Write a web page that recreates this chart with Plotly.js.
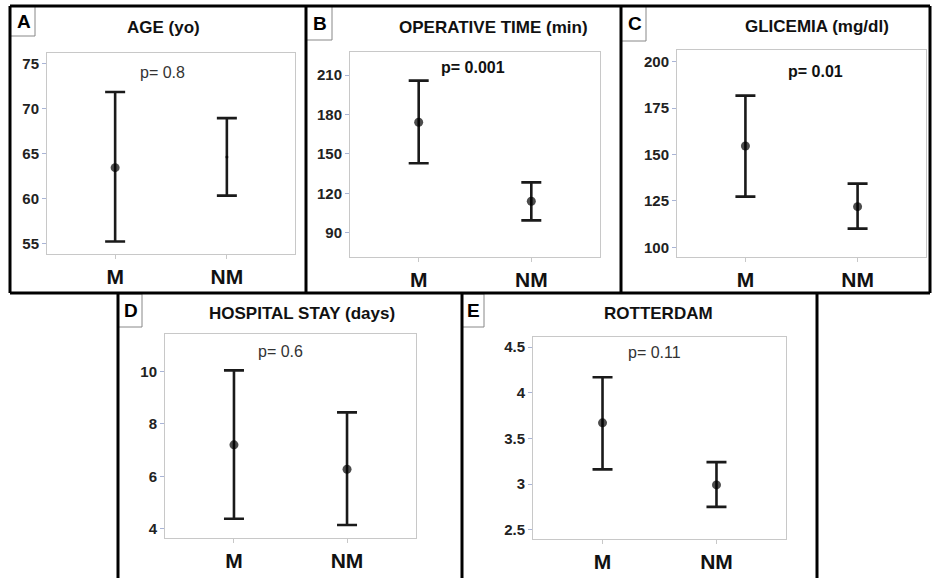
<!DOCTYPE html>
<html>
<head>
<meta charset="utf-8">
<script src="https://cdn.plot.ly/plotly-3.0.1.min.js"></script>
<style>html,body{margin:0;padding:0;background:#fff;}#chart{width:932px;height:578px;}</style>
</head>
<body>
<div id="chart"></div>
<script>
// ---- data ----
const categories = ['M', 'NM'];

const ageMean  = [63.4, 64.6];
const ageUpper = [71.8, 68.9];
const ageLower = [55.2, 60.3];

const opMean  = [174.0, 113.9];
const opUpper = [205.7, 128.3];
const opLower = [142.8, 99.4];

const gliMean  = [154.6, 121.9];
const gliUpper = [181.7, 134.3];
const gliLower = [127.3, 110.1];

const stayMean  = [7.2, 6.27];
const stayUpper = [10.04, 8.44];
const stayLower = [4.38, 4.14];

const rotMean  = [3.67, 2.99];
const rotUpper = [4.17, 3.24];
const rotLower = [3.16, 2.75];

const panelLetters = ['A', 'B', 'C', 'D', 'E'];
const panelTitles  = ['AGE (yo)', 'OPERATIVE TIME (min)', 'GLICEMIA (mg/dl)', 'HOSPITAL STAY (days)', 'ROTTERDAM'];
const pValues      = ['p= 0.8', 'p= 0.001', 'p= 0.01', 'p= 0.6', 'p= 0.11'];
const pBold        = [false, true, true, false, false];

// ---- layout helpers ----
const W = 932, H = 578;
const px = x => x / W;
const py = y => 1 - y / H;
const FONT = 'Liberation Sans, Arial, Helvetica, sans-serif';

const panels = [
  {mean: ageMean,  up: ageUpper,  lo: ageLower,  box: [47, 53, 295, 254],   range: [53.81, 76.14], dtick: 5,   nmSize: 3},
  {mean: opMean,   up: opUpper,   lo: opLower,   box: [350, 52, 600, 257],  range: [71.5, 227.5],  dtick: 30,  nmSize: 9},
  {mean: gliMean,  up: gliUpper,  lo: gliLower,  box: [677, 50, 926, 257],  range: [94.8, 206.3],  dtick: 25,  nmSize: 9},
  {mean: stayMean, up: stayUpper, lo: stayLower, box: [165, 334, 416, 538], range: [3.645, 11.43], dtick: 2,   nmSize: 9},
  {mean: rotMean,  up: rotUpper,  lo: rotLower,  box: [533, 337, 786, 539], range: [2.398, 4.61],  dtick: 0.5, nmSize: 9}
];
const titlePos  = [[163, 27], [493, 27], [817, 26], [302, 313], [658, 313]];
const pPos      = [[162, 72], [473, 67], [815, 71], [280, 351], [654, 352]];
const letterBox = [[10, 6, 35, 36], [306, 6, 332, 40], [621, 6, 646, 41], [118, 294, 142, 327], [462, 294, 484, 327]];

const traces = [];
const layout = {
  width: W, height: H,
  margin: {l: 0, r: 0, t: 0, b: 0},
  paper_bgcolor: '#fff', plot_bgcolor: '#fff',
  showlegend: false,
  font: {family: FONT, color: '#222'},
  shapes: [], annotations: []
};

panels.forEach((p, i) => {
  const n = i === 0 ? '' : String(i + 1);
  traces.push({
    type: 'scatter', mode: 'markers',
    x: categories, y: p.mean,
    xaxis: 'x' + n, yaxis: 'y' + n,
    marker: {color: '#000', size: [9, p.nmSize], line: {width: 0}},
    error_y: {
      type: 'data', symmetric: false,
      array: p.up.map((u, k) => u - p.mean[k]),
      arrayminus: p.lo.map((l, k) => p.mean[k] - l),
      color: '#1a1a1a', thickness: 2.6, width: 10
    },
    hoverinfo: 'skip'
  });
  const [x0, y0, x1, y1] = p.box;
  layout['xaxis' + n] = {
    domain: [px(x0), px(x1)], anchor: 'y' + n,
    type: 'category', range: [-0.61, 1.61],
    showgrid: false, zeroline: false, showline: true, mirror: true,
    linecolor: '#c8c8c8', linewidth: 1,
    ticks: 'outside', ticklen: 4, tickcolor: '#c8c8c8', tickwidth: 1,
    tickfont: {size: 21, family: FONT, color: '#111', weight: 'bold'},
    fixedrange: true
  };
  layout['yaxis' + n] = {
    domain: [py(y1), py(y0)], anchor: 'x' + n,
    range: p.range, dtick: p.dtick, tick0: 0,
    showgrid: false, zeroline: false, showline: true, mirror: true,
    linecolor: '#c8c8c8', linewidth: 1,
    ticks: 'outside', ticklen: 4, tickcolor: '#a9b4d6', tickwidth: 1,
    tickfont: {size: 15, family: FONT, color: '#222', weight: 'bold'},
    fixedrange: true
  };
  // title
  layout.annotations.push({
    xref: 'paper', yref: 'paper', x: px(titlePos[i][0]), y: py(titlePos[i][1]),
    xanchor: 'center', yanchor: 'middle', showarrow: false,
    text: '<b>' + panelTitles[i] + '</b>', font: {size: 17, family: FONT, color: '#111'}
  });
  // p-value
  layout.annotations.push({
    xref: 'paper', yref: 'paper', x: px(pPos[i][0]), y: py(pPos[i][1]),
    xanchor: 'center', yanchor: 'middle', showarrow: false,
    text: pBold[i] ? '<b>' + pValues[i] + '</b>' : pValues[i],
    font: {size: 16, family: FONT, color: pBold[i] ? '#111' : '#333'}
  });
  // letter box
  const lb = letterBox[i];
  layout.shapes.push({type: 'rect', xref: 'paper', yref: 'paper',
    x0: px(lb[0]), x1: px(lb[2]), y0: py(lb[3]), y1: py(lb[1]),
    line: {color: '#888', width: 1}, fillcolor: 'rgba(0,0,0,0)'});
  layout.annotations.push({
    xref: 'paper', yref: 'paper', x: px((lb[0] + lb[2]) / 2 + 1), y: py((lb[1] + lb[3]) / 2),
    xanchor: 'center', yanchor: 'middle', showarrow: false,
    text: '<b>' + panelLetters[i] + '</b>', font: {size: 19, family: FONT, color: '#000'}
  });
});

// panel frames (black)
const frameLines = [
  [10, 6, 930, 6], [10, 293, 930, 293], [10, 6, 10, 293], [306, 6, 306, 293], [621, 6, 621, 293], [930, 6, 930, 293],
  [118, 293, 118, 578], [462, 293, 462, 578], [817, 293, 817, 578]
];
frameLines.forEach(l => layout.shapes.push({
  type: 'line', xref: 'paper', yref: 'paper',
  x0: px(l[0]), y0: py(l[1]), x1: px(l[2]), y1: py(l[3]),
  line: {color: '#000', width: 3}
}));

Plotly.newPlot('chart', traces, layout, {displayModeBar: false, staticPlot: true});
</script>
</body>
</html>
